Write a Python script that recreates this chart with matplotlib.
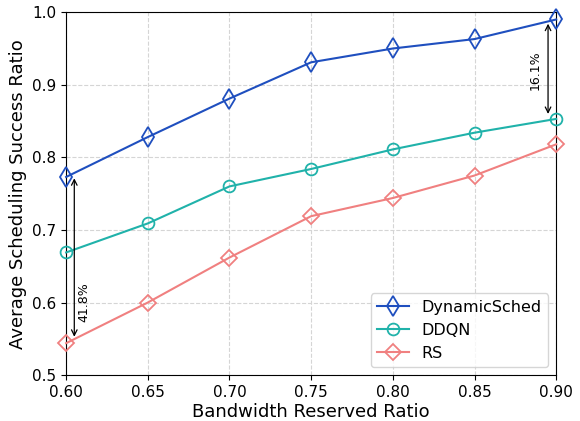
import matplotlib
matplotlib.use("Agg")
import matplotlib.pyplot as plt

x = [0.60, 0.65, 0.70, 0.75, 0.80, 0.85, 0.90]
dynamic = [0.773, 0.828, 0.881, 0.931, 0.950, 0.963, 0.990]
ddqn = [0.669, 0.709, 0.760, 0.784, 0.811, 0.834, 0.853]
rs = [0.544, 0.600, 0.662, 0.719, 0.744, 0.775, 0.818]

fig = plt.figure(figsize=(5.8, 4.21), dpi=100)
ax = fig.add_axes([0.114, 0.109, 0.845, 0.862])

ax.plot(x, dynamic, color="#1f4fbf", marker="d", markersize=10, markerfacecolor="none",
        markeredgewidth=1.3, linewidth=1.5, label="DynamicSched", clip_on=False, zorder=3)
ax.plot(x, ddqn, color="#20b2aa", marker="o", markersize=8.5, markerfacecolor="none",
        markeredgewidth=1.3, linewidth=1.5, label="DDQN", clip_on=False, zorder=3)
ax.plot(x, rs, color="#f08080", marker="D", markersize=8.5, markerfacecolor="none",
        markeredgewidth=1.3, linewidth=1.5, label="RS", clip_on=False, zorder=3)

ax.annotate("", xy=(0.605, rs[0] + 0.005), xytext=(0.605, dynamic[0] + 0.002),
            arrowprops=dict(arrowstyle="<->", color="black", lw=0.9))
ax.text(0.611, 0.60, "41.8%", rotation=90, ha="center", va="center", fontsize=9)
ax.annotate("", xy=(0.895, ddqn[-1] + 0.003), xytext=(0.895, dynamic[-1] - 0.002),
            arrowprops=dict(arrowstyle="<->", color="black", lw=0.9))
ax.text(0.887, 0.92, "16.1%", rotation=90, ha="center", va="center", fontsize=9)

ax.set_xlim(0.60, 0.90)
ax.set_ylim(0.5, 1.0)
ax.set_xticks(x)
ax.set_yticks([0.5, 0.6, 0.7, 0.8, 0.9, 1.0])
ax.tick_params(labelsize=11)
ax.grid(True, linestyle="--", color="#d5d5d5", linewidth=0.8)
ax.set_xlabel("Bandwidth Reserved Ratio", fontsize=13, labelpad=2)
ax.set_ylabel("Average Scheduling Success Ratio", fontsize=13)
ax.legend(loc="lower right", fontsize=11.5, handlelength=2.0)

fig.savefig("out.png", dpi=100)
